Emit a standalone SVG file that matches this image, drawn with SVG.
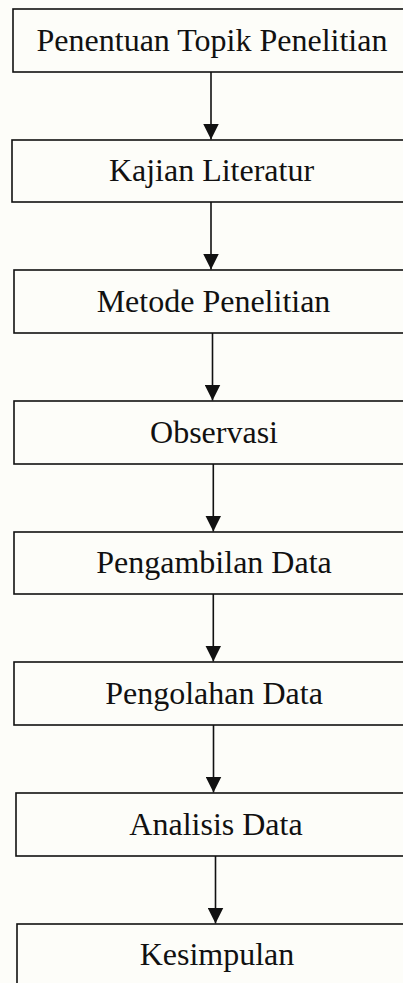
<svg xmlns="http://www.w3.org/2000/svg" width="403" height="983" viewBox="0 0 403 983">
<style>
.box{fill:#fdfdf9;stroke:#111;stroke-width:1.6}
.lbl{font-family:"Liberation Serif","Times New Roman",serif;font-size:32px;fill:#111;text-anchor:middle}
.con{stroke:#111;stroke-width:1.6;fill:none}
</style>
<defs>
<marker id="ah" markerUnits="userSpaceOnUse" markerWidth="16" markerHeight="16" viewBox="0 0 16 16" refX="16" refY="8" orient="auto">
<path d="M0,0 L16,8 L0,16 Z" fill="#111"/>
</marker>
</defs>
<rect width="403" height="983" fill="#fdfdf9"/>
<g id="n1"><rect class="box" x="13" y="9" width="400" height="63"/><text class="lbl" x="212" y="51">Penentuan Topik Penelitian</text></g>
<g id="n2"><rect class="box" x="12" y="140" width="400" height="62"/><text class="lbl" x="211.5" y="181">Kajian Literatur</text></g>
<g id="n3"><rect class="box" x="14" y="270" width="400" height="63"/><text class="lbl" x="213.5" y="311.5">Metode Penelitian</text></g>
<g id="n4"><rect class="box" x="14" y="401" width="400" height="63"/><text class="lbl" x="214" y="442.5">Observasi</text></g>
<g id="n5"><rect class="box" x="14" y="532" width="400" height="62"/><text class="lbl" x="214" y="573">Pengambilan Data</text></g>
<g id="n6"><rect class="box" x="14" y="662" width="400" height="63"/><text class="lbl" x="214" y="703.5">Pengolahan Data</text></g>
<g id="n7"><rect class="box" x="16" y="793" width="400" height="63"/><text class="lbl" x="216" y="834.5">Analisis Data</text></g>
<g id="n8"><rect class="box" x="17" y="924" width="400" height="70"/><text class="lbl" x="217" y="965">Kesimpulan</text></g>
<g id="connectors">
<line class="con" x1="211" y1="72" x2="211" y2="139.5" marker-end="url(#ah)"/>
<line class="con" x1="211" y1="202" x2="211" y2="269.5" marker-end="url(#ah)"/>
<line class="con" x1="212.5" y1="333" x2="212.5" y2="400.5" marker-end="url(#ah)"/>
<line class="con" x1="213.3" y1="464" x2="213.3" y2="531.5" marker-end="url(#ah)"/>
<line class="con" x1="213.3" y1="594" x2="213.3" y2="661.5" marker-end="url(#ah)"/>
<line class="con" x1="213.5" y1="725" x2="213.5" y2="792.5" marker-end="url(#ah)"/>
<line class="con" x1="215.5" y1="856" x2="215.5" y2="923.5" marker-end="url(#ah)"/>
</g>
</svg>
